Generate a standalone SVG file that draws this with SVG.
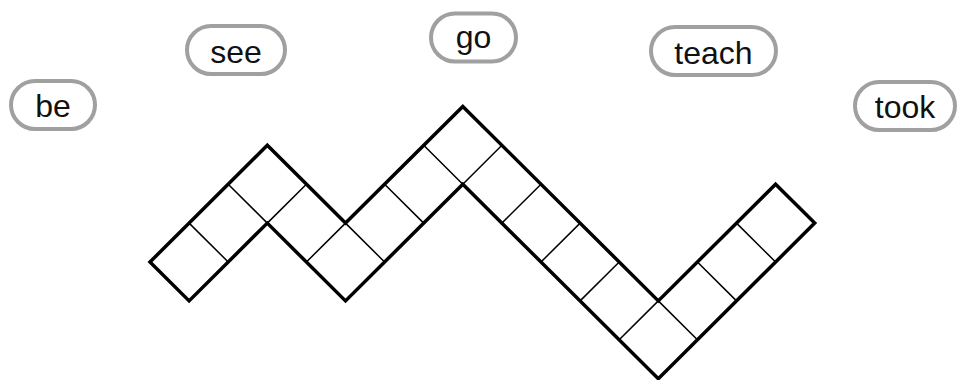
<svg xmlns="http://www.w3.org/2000/svg" width="958" height="380" viewBox="0 0 958 380">
<style>
.pill{fill:#fff;stroke:#a0a0a0;stroke-width:4}
.lbl{font-family:"Liberation Sans","Open Sans",sans-serif;font-size:32px;fill:#111;text-anchor:middle}
.outline{fill:none;stroke:#000;stroke-width:3.5;stroke-linejoin:miter}
.div{stroke:#000;stroke-width:1.5;fill:none}
</style>
<rect width="958" height="380" fill="#fff"/>
<g id="word-be"><rect class="pill" x="11" y="81" width="84" height="48" rx="24"/><text class="lbl" x="53" y="117">be</text></g>
<g id="word-see"><rect class="pill" x="187" y="26" width="98" height="48" rx="24"/><text class="lbl" x="236" y="63">see</text></g>
<g id="word-go"><rect class="pill" x="431" y="13.5" width="85" height="48" rx="24"/><text class="lbl" x="473.5" y="48">go</text></g>
<g id="word-teach"><rect class="pill" x="651" y="27" width="125" height="48" rx="24"/><text class="lbl" x="713.5" y="64">teach</text></g>
<g id="word-took"><rect class="pill" x="855" y="82" width="100" height="48" rx="24"/><text class="lbl" x="905" y="118">took</text></g>
<g id="grid">
<polygon class="outline" points="150,262 267.3,145.3 345.5,223.1 462.8,106.4 658.3,300.9 775.6,184.2 814.7,223.1 658.3,378.7 462.8,184.2 345.5,300.9 267.3,223.1 189.1,300.9"/>
<path class="div" d="M189.1,223.1L228.2,262M228.2,184.2L267.3,223.1M306.4,184.2L267.3,223.1M345.5,223.1L306.4,262M345.5,223.1L384.6,262M384.6,184.2L423.7,223.1M423.7,145.3L462.8,184.2M501.9,145.3L462.8,184.2M541,184.2L501.9,223.1M580.1,223.1L541,262M619.2,262L580.1,300.9M658.3,300.9L619.2,339.8M658.3,300.9L697.4,339.8M697.4,262L736.5,300.9M736.5,223.1L775.6,262"/>
</g>
</svg>
